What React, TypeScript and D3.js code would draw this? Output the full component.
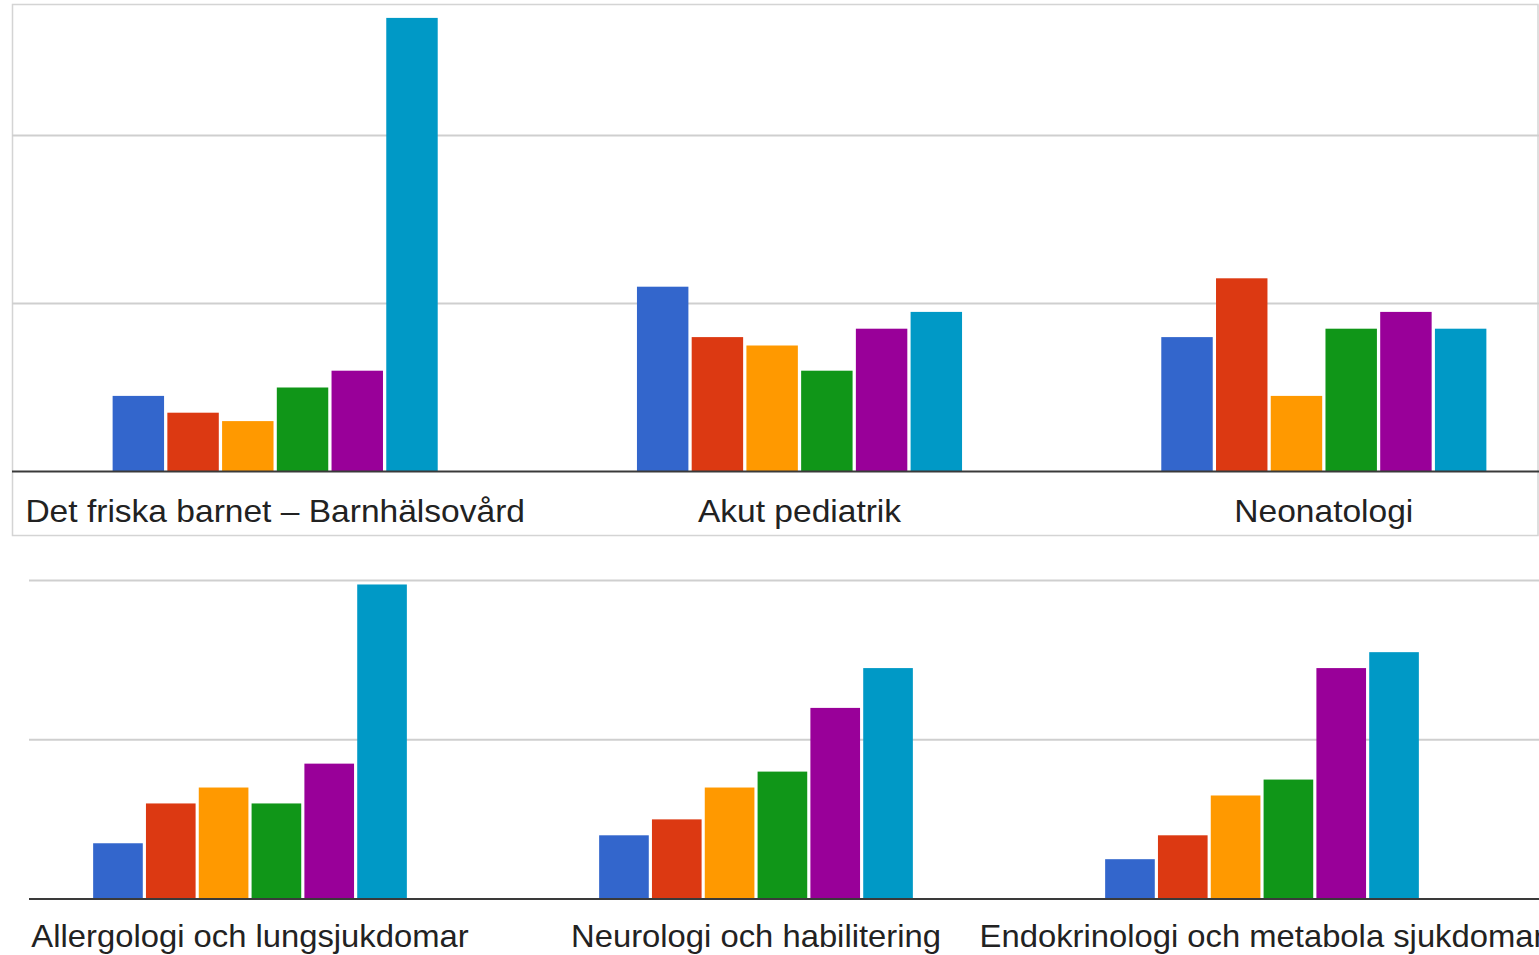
import React from "react";
import * as d3 from "d3";

const topCategories = ["Det friska barnet – Barnhälsovård", "Akut pediatrik", "Neonatologi"];
const bottomCategories = ["Allergologi och lungsjukdomar", "Neurologi och habilitering", "Endokrinologi och metabola sjukdomar"];
const seriesKeys = ["s1", "s2", "s3", "s4", "s5", "s6"];
const seriesColors = ["#3366cc", "#dc3912", "#ff9900", "#109618", "#990099", "#0099c6"];

// values per category, one per series
const topValues = [
  [9, 7, 6, 10, 12, 54],
  [22, 16, 15, 12, 17, 19],
  [16, 23, 9, 17, 19, 17],
];
const bottomValues = [
  [7, 12, 14, 12, 17, 39.5],
  [8, 10, 14, 16, 24, 29],
  [5, 8, 13, 15, 29, 31],
];
const topTicks = [20, 40];
const bottomTicks = [20, 40];

const W = 1539;
const H = 955;

type PanelProps = {
  categories: string[];
  values: number[][];
  ticks: number[];
  xRange: [number, number];
  yDomainMax: number;
  yRange: [number, number];
  gridX0: number;
  labelY: number;
  labelStretch: number;
};

function Panel({ categories, values, ticks, xRange, yDomainMax, yRange, gridX0, labelY, labelStretch }: PanelProps) {
  const x0 = d3.scaleBand<string>().domain(categories).range(xRange).paddingInner(0.38).paddingOuter(0.19);
  const x1 = d3.scaleBand<string>().domain(seriesKeys).range([0, x0.bandwidth()]).paddingInner(0.06).paddingOuter(0);
  const y = d3.scaleLinear().domain([0, yDomainMax]).range(yRange);
  return (
    <g>
      {ticks.map((t) => (
        <line key={t} x1={gridX0} x2={W} y1={y(t)} y2={y(t)} stroke="#cfcfcf" strokeWidth={2} />
      ))}
      {categories.map((c, ci) => (
        <g key={c} transform={`translate(${x0(c)},0)`}>
          {seriesKeys.map((k, si) => (
            <rect
              key={k}
              x={x1(k)}
              y={y(values[ci][si])}
              width={x1.bandwidth()}
              height={y(0) - y(values[ci][si])}
              fill={seriesColors[si]}
            />
          ))}
        </g>
      ))}
      <line x1={gridX0} x2={W} y1={y(0)} y2={y(0)} stroke="#3a3a3a" strokeWidth={2} />
      {categories.map((c) => (
        <text
          key={c + "-l"}
          transform={`translate(${(x0(c) as number) + x0.bandwidth() / 2},${labelY}) scale(${labelStretch},1)`}
          textAnchor="middle"
          fontFamily="Liberation Sans, Arial, sans-serif"
          fontSize={30.5}
          fill="#222"
        >
          {c}
        </text>
      ))}
    </g>
  );
}

export default function App() {
  return (
    <svg
      width={W}
      height={H}
      style={{ position: "absolute", left: 0, top: 0, display: "block", background: "#fff" }}
    >
      <rect x={0} y={0} width={W} height={H} fill="#fff" />
      <rect x={12.5} y={4.5} width={W - 13.5} height={531} fill="none" stroke="#d4d4d4" strokeWidth={1.5} />
      <Panel
        categories={topCategories}
        values={topValues}
        ticks={topTicks}
        xRange={[13, 1586]}
        yDomainMax={60}
        yRange={[471.5, 471.5 - 60 * 8.4]}
        gridX0={12}
        labelY={522}
        labelStretch={1.1}
      />
      <Panel
        categories={bottomCategories}
        values={bottomValues}
        ticks={bottomTicks}
        xRange={[-3, 1515]}
        yDomainMax={40}
        yRange={[899, 580.5]}
        gridX0={29}
        labelY={947}
        labelStretch={1.075}
      />
    </svg>
  );
}
